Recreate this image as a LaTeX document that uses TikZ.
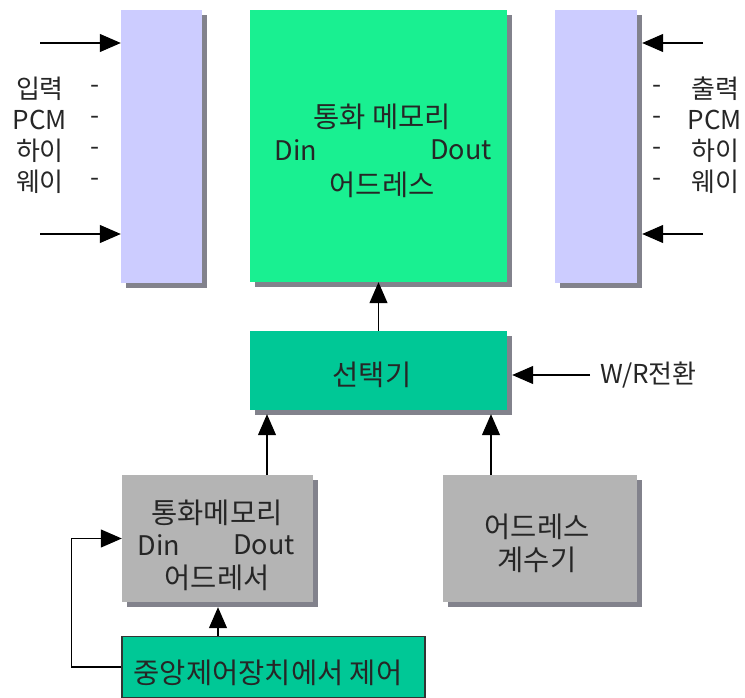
\documentclass[tikz,border=0pt]{standalone}
\usepackage{fontspec}
\setmainfont{Noto Sans CJK KR}
\usetikzlibrary{arrows.meta,shadows}
\definecolor{lav}{RGB}{204,204,255}
\definecolor{mint}{RGB}{25,240,145}
\definecolor{teal}{RGB}{0,200,150}
\definecolor{greybox}{RGB}{180,180,180}
\definecolor{shad}{RGB}{130,130,140}
\tikzset{
  boxbase/.style={rectangle, inner sep=0pt, anchor=center, text=black,
    drop shadow={shadow xshift=5pt, shadow yshift=-5pt, fill=shad, opacity=1}},
  arr/.style={-{Triangle[length=21pt,width=18pt]}, line width=1.2pt},
  lbl/.style={font=\fontsize{26}{28}\selectfont, inner sep=0pt, text=black!85},
  btxt/.style={font=\fontsize{27}{30}\selectfont, inner sep=0pt, text=black!85},
  ktxt/.style={font=\fontsize{28.5}{30}\selectfont, inner sep=0pt, text=black!85},
}
\begin{document}
\begin{tikzpicture}[x=1pt,y=-1pt]
\useasboundingbox (0,0) rectangle (745,698);
% boxes
\node[boxbase, fill=lav, minimum width=81pt, minimum height=273pt] (lbar) at (161.5,146.5) {};
\node[boxbase, fill=lav, minimum width=82pt, minimum height=273pt] (rbar) at (596,146.5) {};
\node[boxbase, fill=mint, minimum width=257pt, minimum height=272pt] (mem) at (378.5,146) {};
\node[boxbase, fill=teal, minimum width=257pt, minimum height=79pt] (sel) at (378.5,370.5) {};
\node[boxbase, fill=greybox, minimum width=191pt, minimum height=127pt] (gl) at (217.5,538.5) {};
\node[boxbase, fill=greybox, minimum width=194pt, minimum height=127pt] (gr) at (540,538.5) {};
\node[rectangle, inner sep=0pt, fill=teal, draw=black!80, line width=1.2pt, minimum width=303pt, minimum height=61pt] (ctl) at (273.5,667) {};
% texts in boxes
\node[ktxt] (m1) at (382,117) {통화 메모리};
\node[btxt] (m2) at (296,150) {Din};
\node[btxt] (m3) at (461,150) {Dout};
\node[ktxt] (m4) at (382,185) {어드레스};
\node[ktxt] (s1) at (372,375) {선택기};
\node[ktxt] (g1) at (217,513) {통화메모리};
\node[btxt] (g2) at (159,545) {Din};
\node[btxt] (g3) at (264,545) {Dout};
\node[ktxt] (g4) at (217,578) {어드레서};
\node[ktxt] (r1) at (537,527) {어드레스};
\node[ktxt] (r2) at (537,560) {계수기};
\node[ktxt] (c1) at (268,673) {중앙제어장치에서 제어};
\node[lbl, anchor=west] (wr) at (600,375) {W/R전환};
% side labels
\foreach \t [count=\i] in {입력,PCM,하이,웨이}{
  \node[lbl] (L\i) at (40,89+31*\i-31) {\t};
  \node[lbl] (LD\i) at (95,89+31*\i-31) {-};
  \node[lbl] (RD\i) at (657,89+31*\i-31) {-};
}
\foreach \t [count=\i] in {출력,PCM,하이,웨이}{
  \node[lbl] (R\i) at (715,89+31*\i-31) {\t};
}
% connectors
\coordinate (in1) at (40,43);
\coordinate (in2) at (40,234);
\coordinate (out1) at (703,43);
\coordinate (out2) at (703,234);
\coordinate (xa) at (267,0);
\coordinate (xb) at (491,0);
\coordinate (xc) at (218,0);
\draw[arr] (in1) -- (in1 -| lbar.west);
\draw[arr] (in2) -- (in2 -| lbar.west);
\draw[arr] (out1) -- ([xshift=5pt]out1 -| rbar.east);
\draw[arr] (out2) -- ([xshift=5pt]out2 -| rbar.east);
\draw[arr] (sel.north) -- (mem.south);
\draw[arr] ([xshift=-10pt]wr.west) -- ([xshift=5pt]sel.east |- wr.west);
\draw[arr] (gl.north -| xa) -- ([yshift=-4pt]sel.south -| xa);
\draw[arr] (gr.north -| xb) -- ([yshift=-4pt]sel.south -| xb);
\draw[arr] (ctl.north -| xc) -- ([yshift=-5pt]gl.south -| xc);
\draw[arr] (ctl.west) -- ++(-50,0) |- (gl.west);
\end{tikzpicture}
\end{document}
